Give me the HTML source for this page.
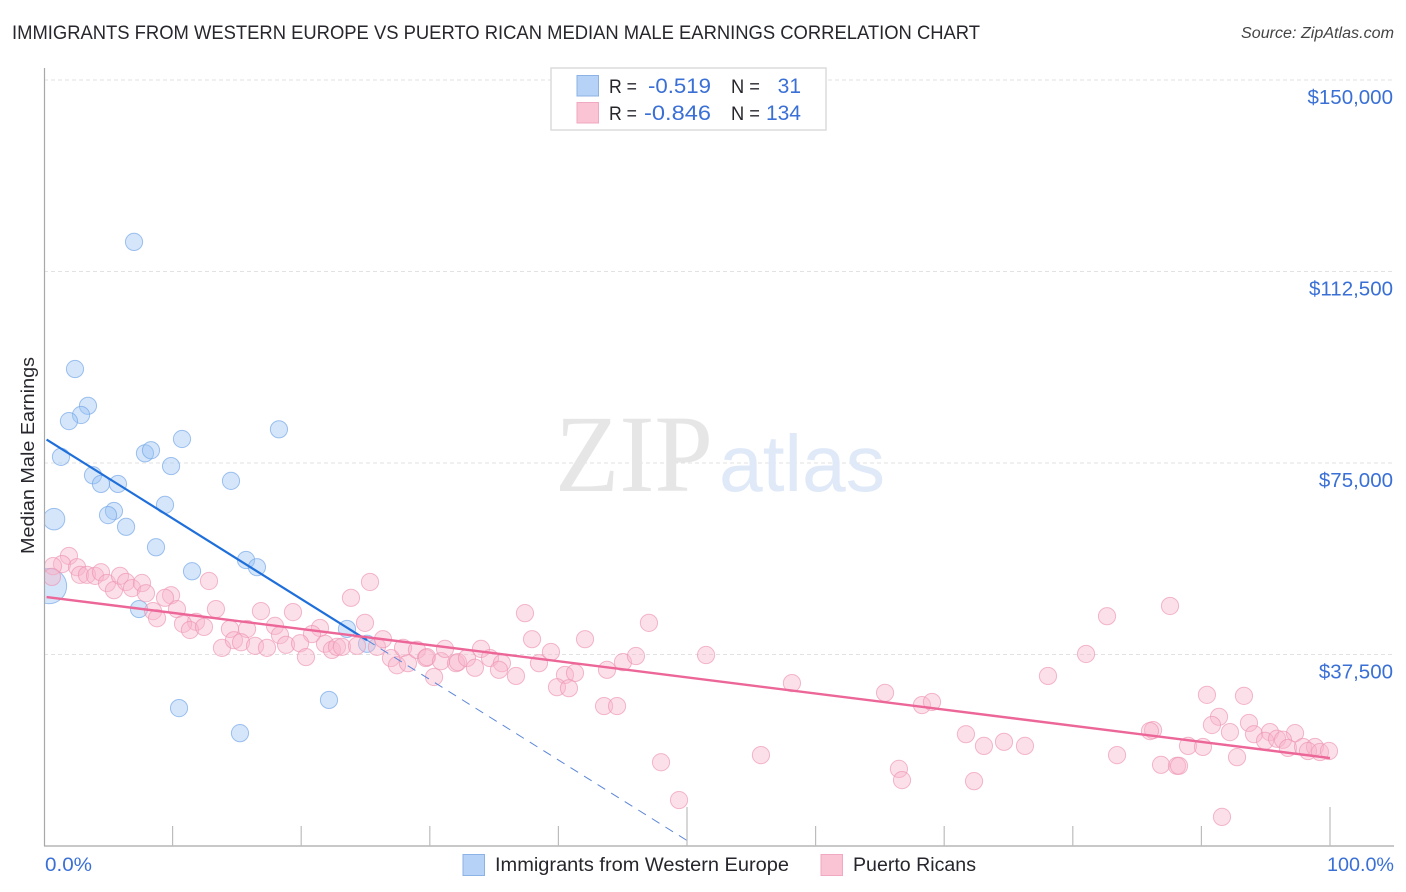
<!DOCTYPE html>
<html>
<head>
<meta charset="utf-8">
<title>Immigrants from Western Europe vs Puerto Rican Median Male Earnings</title>
<style>
html,body{margin:0;padding:0;background:#fff;width:1406px;height:892px;overflow:hidden}
svg{display:block}
text{font-family:"Liberation Sans",sans-serif}
.val{fill:#3a70d6}
.lab{fill:#26262c}
</style>
</head>
<body>
<svg id="chart" xmlns="http://www.w3.org/2000/svg" width="1406" height="892" viewBox="0 0 1406 892">
  <defs><clipPath id="plot-clip"><rect x="45" y="60" width="1349" height="786"/></clipPath></defs>
  <text x="12" y="39" font-size="19" class="lab" textLength="968" lengthAdjust="spacingAndGlyphs">IMMIGRANTS FROM WESTERN EUROPE VS PUERTO RICAN MEDIAN MALE EARNINGS CORRELATION CHART</text>
  <text x="1241" y="38" font-size="15.500" font-style="italic" fill="#444" textLength="153" lengthAdjust="spacingAndGlyphs">Source: ZipAtlas.com</text>

  <g id="grid"></g>

  <g>
    <text x="555" y="491" font-size="110" style="font-family:'Liberation Serif',serif" fill="#e6e6e6" textLength="158" lengthAdjust="spacingAndGlyphs">ZIP</text>
    <text x="719" y="491" font-size="80" fill="#dfe9f8" textLength="166" lengthAdjust="spacingAndGlyphs">atlas</text>
  </g>

  <g id="blue-points" clip-path="url(#plot-clip)"></g>
  <g id="pink-points" clip-path="url(#plot-clip)"></g>
  <g id="trends"></g>

  <g id="axes"></g>
  <g id="y-labels"></g>

  <text transform="translate(34,455.5) rotate(-90)" font-size="18.500" text-anchor="middle" class="lab" textLength="197" lengthAdjust="spacingAndGlyphs">Median Male Earnings</text>
  <text x="45" y="871" font-size="19" class="val" textLength="47" lengthAdjust="spacingAndGlyphs">0.0%</text>
  <text x="1327" y="871" font-size="19" class="val" textLength="67" lengthAdjust="spacingAndGlyphs">100.0%</text>

  <g>
    <rect x="551" y="68" width="275" height="62" fill="#fff" stroke="#dcdcdc" stroke-width="1.5"/>
    <rect x="577" y="75.500" width="21.500" height="20.500" fill="#b6d2f7" stroke="#8db2e6" stroke-width="1"/>
    <rect x="577" y="102.500" width="21.500" height="20.500" fill="#fbc4d5" stroke="#f0a9c0" stroke-width="1"/>
    <text x="609" y="93" font-size="19" class="lab" textLength="28" lengthAdjust="spacingAndGlyphs">R =</text>
    <text x="648" y="93" font-size="21" class="val" textLength="63" lengthAdjust="spacingAndGlyphs">-0.519</text>
    <text x="731" y="93" font-size="19" class="lab" textLength="29" lengthAdjust="spacingAndGlyphs">N =</text>
    <text x="801" y="93" font-size="21" class="val" text-anchor="end">31</text>
    <text x="609" y="120" font-size="19" class="lab" textLength="28" lengthAdjust="spacingAndGlyphs">R =</text>
    <text x="644" y="120" font-size="21" class="val" textLength="67" lengthAdjust="spacingAndGlyphs">-0.846</text>
    <text x="731" y="120" font-size="19" class="lab" textLength="29" lengthAdjust="spacingAndGlyphs">N =</text>
    <text x="801" y="120" font-size="21" class="val" text-anchor="end">134</text>
  </g>

  <g>
    <rect x="463" y="854.500" width="21.500" height="21" fill="#b6d2f7" stroke="#8db2e6" stroke-width="1"/>
    <text x="495" y="871" font-size="19" class="lab" textLength="294" lengthAdjust="spacingAndGlyphs">Immigrants from Western Europe</text>
    <rect x="821" y="854.500" width="21.500" height="21" fill="#fbc4d5" stroke="#f0a9c0" stroke-width="1"/>
    <text x="853" y="871" font-size="19" class="lab" textLength="123" lengthAdjust="spacingAndGlyphs">Puerto Ricans</text>
  </g>
</svg>

<script>
// ---- chart data (x = % share, y = median male earnings in $) ----
const yTicks = [37500, 75000, 112500, 150000];
const yTickLabels = ['$37,500', '$75,000', '$112,500', '$150,000'];
const xTicks = [0, 10, 20, 30, 40, 50, 60, 70, 80, 90, 100];
const xTallTicks = [50, 100];

const blueX = [7.00,2.41,3.42,2.88,1.94,1.32,7.85,8.32,10.73,18.27,9.88,3.81,4.43,5.75,14.54,9.41,5.44,4.98,0.78,6.38,8.71,15.71,16.56,11.51,7.39,0.39,23.56,25.12,22.16,10.50,15.24];
const blueY = [118300,93400,86200,84400,83200,76200,76900,77500,79700,81600,74400,72600,70900,70900,71500,66800,65600,64800,64000,62500,58500,56000,54600,53800,46400,50900,42500,39600,28600,27000,22100];
const blueSize = [1,1,1,1,1,1,1,1,1,1,1,1,1,1,1,1,1,1,1.25,1,1,1,1,1,1,2.05,1,1,1,1,1];

const pinkX = [1.94,1.40,0.70,0.62,2.57,2.80,3.34,3.97,4.43,4.90,5.44,5.91,6.38,6.84,7.62,7.93,9.88,9.41,12.83,10.34,8.48,8.79,13.37,16.87,19.36,11.82,10.81,11.35,12.44,14.46,15.79,17.96,21.46,20.84,18.35,13.84,14.77,15.32,16.41,17.34,18.82,19.91,20.37,21.85,22.39,22.78,23.17,24.34,25.89,26.36,26.98,27.92,27.45,28.30,29.00,29.70,29.78,30.33,30.87,31.18,32.04,32.19,32.89,33.51,33.98,34.68,35.61,35.38,36.70,37.40,37.95,39.42,38.49,40.51,41.29,39.89,40.82,42.07,43.78,43.55,44.56,45.02,46.03,47.04,47.98,49.38,25.35,23.87,24.96,51.48,58.16,55.75,65.40,68.27,69.05,66.48,66.72,71.69,73.09,74.65,76.28,72.32,78.07,87.56,82.66,81.03,90.43,93.31,91.37,90.82,92.22,93.70,94.09,95.33,97.28,94.95,95.88,96.34,96.73,97.90,98.83,98.29,99.22,99.92,86.24,86.00,83.44,86.86,88.10,88.26,88.96,90.12,92.77,91.60];
const pinkY = [56800,55200,54800,52700,54600,53100,53100,52900,53600,51500,50100,52900,51700,50500,51500,49500,49100,48600,51900,46400,46000,44600,46400,46000,45800,43900,43500,42300,42900,42500,42500,43100,42700,41500,41300,38800,40300,39900,39200,38800,39400,39700,37000,39600,38400,39000,39000,39200,39000,40500,36800,38800,35400,35800,38400,36800,37000,33100,36200,38600,35800,36000,36800,34900,38600,36800,35800,34500,33300,45600,40500,38000,35800,33500,33900,31100,30900,40500,34500,27400,27400,36000,37200,43700,16400,9000,51700,48600,43700,37400,31900,17800,30000,27600,28200,15100,12900,21900,19600,20400,19600,12700,33300,47000,45000,37600,29600,29400,25300,23700,22300,24100,21900,22300,22100,20600,21000,20800,19200,19400,19400,18600,18400,18600,22700,22500,17800,15900,15700,15700,19600,19400,17400,5700];

const blueTrendX = [0.2, 25.12];
const blueTrendY = [79600, 40300];
const blueDashX = [25.12, 50.3];
const blueDashY = [40300, 600];
const pinkTrendX = [0.2, 100];
const pinkTrendY = [48750, 17230];

// ---- axis functions ----
function xScale(v) { return 44 + v * 12.86; }
function yScale(v) { return 846 - v * 766 / 150000; }

const NS = 'http://www.w3.org/2000/svg';

// gridlines and y labels
const gridG = document.getElementById('grid');
const yLabG = document.getElementById('y-labels');
yTicks.forEach(function (t, i) {
  const ln = document.createElementNS(NS, 'line');
  
  
  ln.setAttribute('x1', 44);
  ln.setAttribute('x2', 1394);
  ln.setAttribute('y1', yScale(t));
  ln.setAttribute('y2', yScale(t));
  ln.setAttribute('stroke', '#e2e2e2');
  ln.setAttribute('stroke-width', '1');
  ln.setAttribute('stroke-dasharray', '4 3');
  gridG.appendChild(ln);

  const tx = document.createElementNS(NS, 'text');
  
  
  tx.setAttribute('x', 1393);
  tx.setAttribute('y', yScale(t) + 24);
  tx.setAttribute('text-anchor', 'end');
  tx.setAttribute('font-size', '20.5');
  tx.setAttribute('class', 'val');
  tx.textContent = yTickLabels[i];
  yLabG.appendChild(tx);
});

// axis lines and ticks
const axesG = document.getElementById('axes');
function addAxisLine(x1, y1, x2, y2, color, name) {
  const a = document.createElementNS(NS, 'line');
  
  
  a.setAttribute('x1', x1);
  a.setAttribute('y1', y1);
  a.setAttribute('x2', x2);
  a.setAttribute('y2', y2);
  a.setAttribute('stroke', color);
  a.setAttribute('stroke-width', '1.2');
  axesG.appendChild(a);
}
addAxisLine(44.5, 68, 44.5, 846, '#a8a8a8', 'y-axis-line');
addAxisLine(44, 846, 1394, 846, '#a8a8a8', 'x-axis-line');
xTicks.forEach(function (t) {
  if (t === 0) return;
  const top = xTallTicks.indexOf(t) >= 0 ? 807 : 826;
  addAxisLine(xScale(t), top, xScale(t), 846, '#bcbcbc', 'x-tick');
});

// points
function drawPoints(groupId, xs, ys, sizes, fill, stroke, name) {
  const g = document.getElementById(groupId);
  xs.forEach(function (xv, i) {
    const c = document.createElementNS(NS, 'circle');
    
    
    c.setAttribute('cx', xScale(xv));
    c.setAttribute('cy', yScale(ys[i]));
    c.setAttribute('r', 8.6 * (sizes ? sizes[i] : 1));
    c.setAttribute('fill', fill);
    c.setAttribute('fill-opacity', '0.42');
    c.setAttribute('stroke', stroke);
    c.setAttribute('stroke-opacity', '0.65');
    c.setAttribute('stroke-width', '1');
    g.appendChild(c);
  });
}
drawPoints('blue-points', blueX, blueY, blueSize, '#9cc3f2', '#6ea3e6', 'immigrants-point');
drawPoints('pink-points', pinkX, pinkY, null, '#f7b4ca', '#ec93b2', 'puerto-ricans-point');

// trend lines
const trendG = document.getElementById('trends');
function drawTrend(xs, ys, color, width, dash, name) {
  const l = document.createElementNS(NS, 'line');
  
  
  l.setAttribute('x1', xScale(xs[0]));
  l.setAttribute('y1', yScale(ys[0]));
  l.setAttribute('x2', xScale(xs[1]));
  l.setAttribute('y2', yScale(ys[1]));
  l.setAttribute('stroke', color);
  l.setAttribute('stroke-width', width);
  if (dash) l.setAttribute('stroke-dasharray', dash);
  trendG.appendChild(l);
}
drawTrend(blueDashX, blueDashY, '#5c86d8', 1, '9 7', 'immigrants-trend-extrapolation');
drawTrend(blueTrendX, blueTrendY, '#1f6fdb', 2.2, null, 'immigrants-trend-line');
drawTrend(pinkTrendX, pinkTrendY, '#ec6698', 2.4, null, 'puerto-ricans-trend-line');
</script>
</body>
</html>
